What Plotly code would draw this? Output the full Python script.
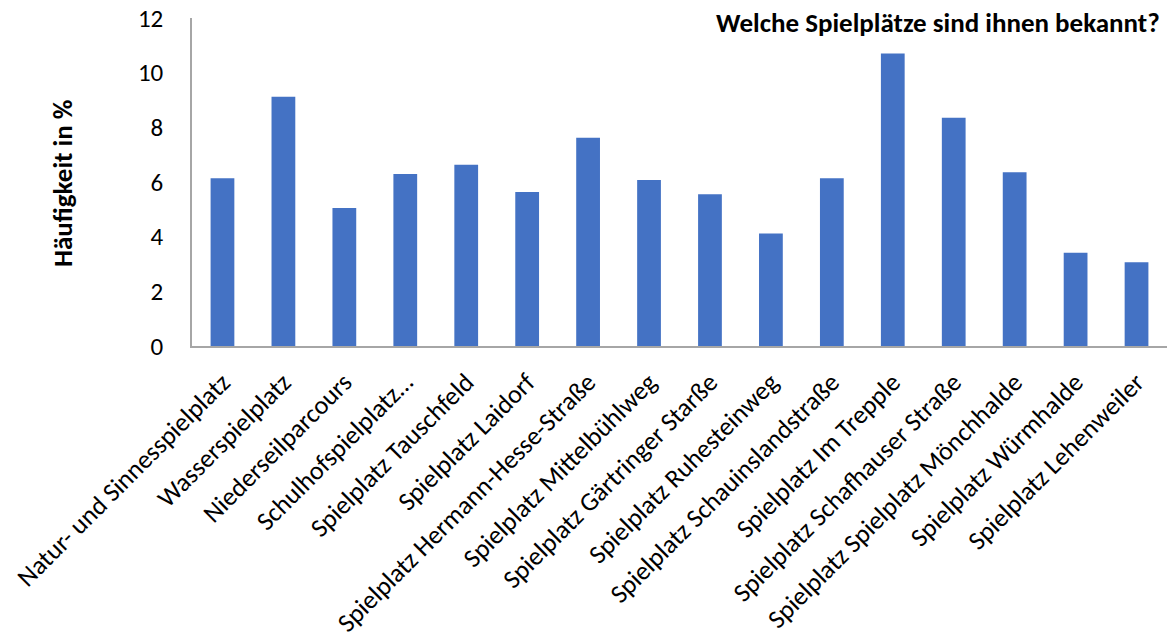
import plotly.graph_objects as go

categories = [
    "Natur- und Sinnesspielplatz",
    "Wasserspielplatz",
    "Niederseilparcours",
    "Schulhofspielplatz…",
    "Spielplatz Tauschfeld",
    "Spielplatz Laidorf",
    "Spielplatz Hermann-Hesse-Straße",
    "Spielplatz Mittelbühlweg",
    "Spielplatz Gärtringer Starße",
    "Spielplatz Ruhesteinweg",
    "Spielplatz Schauinslandstraße",
    "Spielplatz Im Trepple",
    "Spielplatz Schafhauser Straße",
    "Spielplatz Spielplatz Mönchhalde",
    "Spielplatz Würmhalde",
    "Spielplatz Lehenweiler",
]
values = [6.14, 9.12, 5.05, 6.29, 6.63, 5.63, 7.62, 6.07, 5.55, 4.12, 6.14, 10.70, 8.35, 6.36, 3.41, 3.06]
y_ticks = [0, 2, 4, 6, 8, 10, 12]

font_family = "Carlito, Calibri, Lato, 'Open Sans', sans-serif"

fig = go.Figure(
    go.Bar(
        x=categories,
        y=values,
        marker=dict(color="#4472C4", line=dict(width=0)),
        width=0.39,
    )
)

fig.update_layout(
    width=1167,
    height=637,
    margin=dict(l=192, r=0, t=18, b=291, autoexpand=False),
    paper_bgcolor="white",
    plot_bgcolor="white",
    showlegend=False,
    font=dict(family=font_family, color="#000000"),
    annotations=[
        dict(
            text="<b>Welche Spielplätze sind ihnen bekannt?</b>",
            xref="paper", yref="paper",
            x=1.0, y=1.0, xanchor="right", yanchor="middle",
            yshift=-4, xshift=-5,
            showarrow=False,
            font=dict(size=27, family=font_family, color="#000000"),
        ),
        dict(
            text="<b>Häufigkeit in %</b>",
            xref="paper", yref="paper",
            x=0, y=0.5, xanchor="center", yanchor="middle",
            xshift=-130, yshift=-1,
            textangle=-90,
            showarrow=False,
            font=dict(size=27, family=font_family, color="#000000"),
        ),
    ],
)

fig.update_xaxes(
    tickangle=-45,
    tickfont=dict(size=26, family=font_family, color="#000000"),
    showline=True,
    linecolor="#a6a6a6",
    linewidth=1.5,
    ticks="",
    showgrid=False,
    automargin=False,
    ticklabelstandoff=9,
    range=[-0.5, len(categories) - 0.5],
)

fig.update_yaxes(
    range=[0, 12],
    tickvals=y_ticks,
    ticktext=[str(v) for v in y_ticks],
    tickfont=dict(size=25, family=font_family, color="#000000"),
    showline=True,
    linecolor="#a6a6a6",
    linewidth=1.5,
    ticks="",
    showgrid=False,
    zeroline=False,
    automargin=False,
    ticklabelstandoff=22,
    ticklabeloverflow="allow",
)

fig.write_html(
    "out.html",
    config={"displayModeBar": False},
    post_script="document.body.style.margin='0';",
)
